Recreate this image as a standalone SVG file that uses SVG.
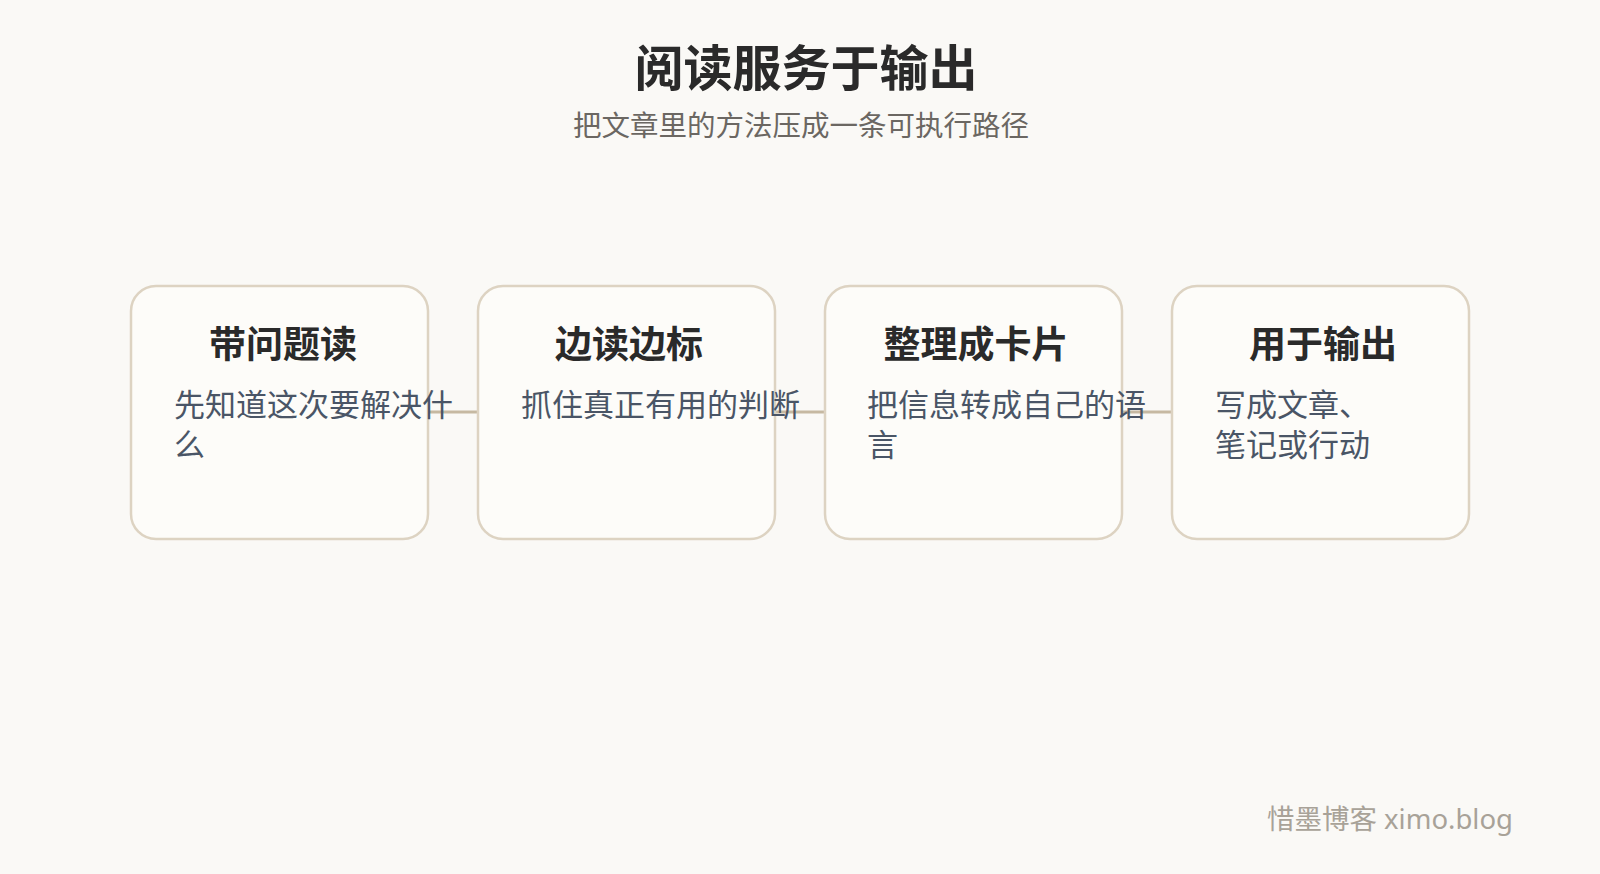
<svg xmlns="http://www.w3.org/2000/svg" width="1600" height="874" viewBox="0 0 1600 874">
<style>
.bg{fill:#faf9f6}
.box{fill:#fdfcf9;stroke:#ddd3c2;stroke-width:2.5}
.conn{stroke:#c6b9a2;stroke-width:3;fill:none}
.h1{font-family:"Noto Sans CJK SC","Noto Sans",sans-serif;font-weight:700;font-size:49px;fill:#2a2a2a;text-anchor:middle}
.sub{font-family:"Noto Sans CJK SC","Noto Sans",sans-serif;font-size:28.5px;fill:#6b6762;text-anchor:middle}
.nt{font-family:"Noto Sans CJK SC","Noto Sans",sans-serif;font-weight:700;font-size:37px;fill:#2a2a2a;text-anchor:middle}
.nb{font-family:"Noto Sans CJK SC","Noto Sans",sans-serif;font-size:31px;fill:#4a5566}
.ft{font-family:"Noto Sans","Noto Sans CJK SC",sans-serif;font-size:27.5px;fill:#a8a298;text-anchor:end}
</style>
<rect class="bg" x="0" y="0" width="1600" height="874"/>
<g id="header">
<text class="h1" x="806" y="86">阅读服务于输出</text>
<text class="sub" x="801" y="136">把文章里的方法压成一条可执行路径</text>
</g>
<g id="connectors">
<line class="conn" x1="428" y1="412" x2="478" y2="412"/>
<line class="conn" x1="775" y1="412" x2="825" y2="412"/>
<line class="conn" x1="1122" y1="412" x2="1172" y2="412"/>
</g>
<g id="node1">
<rect class="box" x="131" y="286" width="297" height="253" rx="25"/>
<text class="nt" x="283" y="358">带问题读</text>
<text class="nb" x="174" y="416">先知道这次要解决什<tspan x="174" dy="39.5">么</tspan></text>
</g>
<g id="node2">
<rect class="box" x="478" y="286" width="297" height="253" rx="25"/>
<text class="nt" x="629" y="358">边读边标</text>
<text class="nb" x="521" y="416">抓住真正有用的判断</text>
</g>
<g id="node3">
<rect class="box" x="825" y="286" width="297" height="253" rx="25"/>
<text class="nt" x="976" y="358">整理成卡片</text>
<text class="nb" x="867" y="416">把信息转成自己的语<tspan x="867" dy="39.5">言</tspan></text>
</g>
<g id="node4">
<rect class="box" x="1172" y="286" width="297" height="253" rx="25"/>
<text class="nt" x="1323" y="358">用于输出</text>
<text class="nb" x="1215" y="416">写成文章、<tspan x="1215" dy="39.5">笔记或行动</tspan></text>
</g>
<g id="footer">
<text class="ft" x="1513" y="829">惜墨博客 ximo.blog</text>
</g>
</svg>
